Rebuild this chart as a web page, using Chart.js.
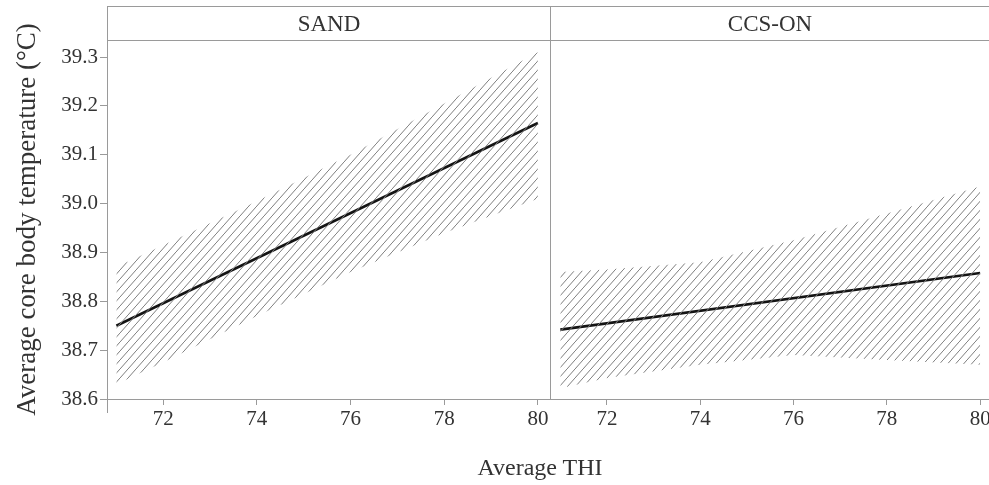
<!DOCTYPE html>
<html><head><meta charset="utf-8">
<script src="https://cdn.jsdelivr.net/npm/chart.js@4.4.1/dist/chart.umd.min.js"></script>
<style>
html,body{margin:0;padding:0;background:#fff;width:989px;height:485px;overflow:hidden;}
#wrap{position:relative;width:989px;height:485px;}
canvas{position:absolute;top:0;}
#c1{left:0}
#c2{left:551px}
#xt{position:absolute;left:390px;width:300px;top:453px;text-align:center;font-family:"Liberation Serif";font-size:24px;color:#333;line-height:28px}
</style></head><body>
<div id="wrap"><canvas id="c1" width="552" height="485"></canvas><canvas id="c2" width="438" height="485"></canvas><div id="xt">Average THI</div></div>
<script>
const panels = ['SAND', 'CCS-ON'];
const yTitle = 'Average core body temperature (°C)';
const xTicks = [72, 74, 76, 78, 80];
const yTicks = [38.6, 38.7, 38.8, 38.9, 39.0, 39.1, 39.2, 39.3];
const lineX = [71, 80];
const sandFit = [38.75, 39.165];
const ccsFit = [38.742, 38.858];
const bandX = [71, 72, 74, 76, 78, 80];
const sandUpper = [38.87, 38.915, 39.005, 39.10, 39.205, 39.31];
const sandLower = [38.63, 38.675, 38.77, 38.86, 38.94, 39.01];
const ccsUpper = [38.86, 38.865, 38.88, 38.925, 38.98, 39.035];
const ccsLower = [38.622, 38.643, 38.67, 38.69, 38.68, 38.67];

const AX = '#9a9a9a', TX = '#333333', FONT = 'Liberation Serif';

function hatch() {
  const w = 8, h = 9;
  const c = document.createElement('canvas'); c.width = w; c.height = h;
  const x = c.getContext('2d');
  x.strokeStyle = '#7e7e7e'; x.lineWidth = 1;
  x.beginPath();
  for (let n = -1; n <= 1; n++) { x.moveTo(0, h + n * h); x.lineTo(w, n * h); }
  x.stroke();
  return x.createPattern(c, 'repeat');
}

function pts(xs, ys) { return xs.map((v, i) => ({x: v, y: ys[i]})); }

const frame = {
  id: 'frame',
  afterDraw(chart, args, opts) {
    const ctx = chart.ctx, W = chart.width;
    ctx.save();
    ctx.strokeStyle = AX; ctx.lineWidth = 1;
    ctx.beginPath();
    ctx.moveTo(opts.left, 6.5); ctx.lineTo(W, 6.5);
    ctx.moveTo(opts.left, 40.5); ctx.lineTo(W, 40.5);
    if (opts.main) {
      ctx.moveTo(107.5, 6); ctx.lineTo(107.5, 413);
      ctx.moveTo(103, 399.5); ctx.lineTo(108, 399.5);
      ctx.moveTo(550.5, 6); ctx.lineTo(550.5, 400);
    }
    ctx.stroke();
    ctx.restore();
  }
};

function makeChart(id, title, fit, upper, lower, xmax, main) {
  const pattern = hatch();
  return new Chart(document.getElementById(id), {
    type: 'line',
    data: {
      datasets: [
        {data: pts(bandX, upper), fill: '+1', backgroundColor: pattern, borderColor: 'rgba(0,0,0,0)', borderWidth: 0, pointRadius: 0},
        {data: pts(bandX, lower), fill: false, borderColor: 'rgba(0,0,0,0)', borderWidth: 0, pointRadius: 0},
        {data: pts(lineX, fit), fill: false, borderColor: '#141414', borderWidth: 2.6, pointRadius: 0}
      ]
    },
    options: {
      responsive: false, animation: false, devicePixelRatio: 1,
      layout: {padding: {left: 0, right: main ? 1 : 0, top: 0, bottom: 0}},
      plugins: {
        legend: {display: false}, tooltip: {enabled: false},
        title: {display: true, text: title, fullSize: false, color: TX,
          font: {family: FONT, size: 23, weight: 'normal', lineHeight: 1.2},
          padding: {top: 10.7, bottom: 1.7}},
        frame: {left: main ? 107 : 0, main: main}
      },
      scales: {
        x: {
          type: 'linear', min: 70.8, max: xmax,
          afterBuildTicks: s => { s.ticks = xTicks.map(v => ({value: v})); },
          afterFit: s => { s.height = 86; s.paddingLeft = 0; s.paddingRight = 0; },
          grid: {drawOnChartArea: false, drawTicks: true, tickLength: 6, color: AX},
          border: {display: true, color: AX, width: 1},
          ticks: {font: {family: FONT, size: 21}, color: TX, padding: 2, maxRotation: 0, autoSkip: false,
            callback: v => String(v)}
        },
        y: {
          display: main, min: 38.6, max: 39.335,
          afterBuildTicks: s => { s.ticks = yTicks.map(v => ({value: v})); },
          afterFit: s => { if (main) s.width = 107; },
          grid: {drawOnChartArea: false, drawTicks: true, tickLength: 7, color: AX},
          border: {display: true, color: AX, width: 1},
          ticks: {font: {family: FONT, size: 21}, color: TX, padding: 2, autoSkip: false,
            callback: v => Number(v).toFixed(1)},
          title: {display: true, text: yTitle, color: TX, font: {family: FONT, size: 27}, padding: {top: 12, bottom: 0}}
        }
      }
    },
    plugins: [frame]
  });
}

makeChart('c1', panels[0], sandFit, sandUpper, sandLower, 80.28, true);
makeChart('c2', panels[1], ccsFit, ccsUpper, ccsLower, 80.19, false);
</script>
</body></html>
